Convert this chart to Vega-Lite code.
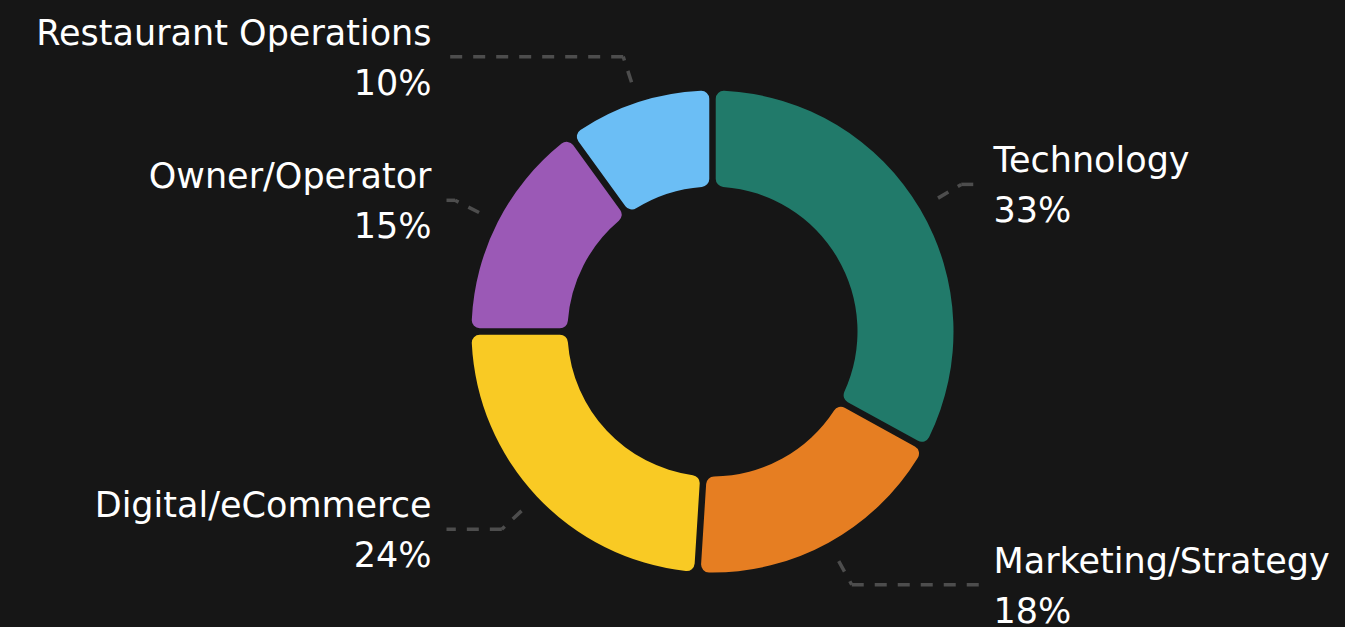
{
  "$schema": "https://vega.github.io/schema/vega-lite/v6.json",
  "width": 1265,
  "height": 591,
  "autosize": {"type": "none"},
  "padding": {"left": 80, "top": 36, "right": 0, "bottom": 0},
  "background": "#161616",
  "view": {"stroke": null},
  "config": {"font": "DejaVu Sans"},
  "data": {
    "values": [
      {"category": "Technology", "share": 0.33, "rank": 1},
      {"category": "Marketing/Strategy", "share": 0.18, "rank": 2},
      {"category": "Digital/eCommerce", "share": 0.24, "rank": 3},
      {"category": "Owner/Operator", "share": 0.15, "rank": 4},
      {"category": "Restaurant Operations", "share": 0.10, "rank": 5}
    ]
  },
  "layer": [
    {
      "mark": {"type": "arc", "outerRadius": 241, "innerRadius": 145, "padAngle": 0.023, "cornerRadius": 8},
      "encoding": {
        "theta": {"field": "share", "type": "quantitative", "stack": true},
        "order": {"field": "rank", "type": "quantitative"},
        "color": {
          "field": "category",
          "type": "nominal",
          "legend": null,
          "scale": {
            "domain": ["Technology", "Marketing/Strategy", "Digital/eCommerce", "Owner/Operator", "Restaurant Operations"],
            "range": ["#217a6a", "#e67e22", "#f9ca24", "#9b59b6", "#6bbef5"]
          }
        }
      }
    },
    {
      "transform": [
        {"window": [{"op": "sum", "field": "share", "as": "cum"}], "sort": [{"field": "rank"}], "frame": [null, 0]},
        {"calculate": "(datum.cum - datum.share / 2) * 2 * PI", "as": "mid"},
        {"calculate": "262 * sin(datum.mid)", "as": "ax"},
        {"calculate": "262 * cos(datum.mid)", "as": "ay"},
        {"calculate": "289 * sin(datum.mid)", "as": "bx"},
        {"calculate": "289 * cos(datum.mid)", "as": "by"},
        {"calculate": "datum.mid < PI ? 269 : -266", "as": "cx"},
        {"calculate": "datum.mid < PI ? 281 : -281", "as": "lx"},
        {"calculate": "datum.category + '\\n' + format(datum.share, '.0%')", "as": "label"}
      ],
      "layer": [
        {
          "mark": {"type": "rule", "stroke": "#4d4d4d", "strokeWidth": 3.5, "strokeDash": [12, 11]},
          "encoding": {
            "x": {"field": "ax", "type": "quantitative", "scale": {"domain": [-632.5, 632.5], "nice": false, "zero": false}, "axis": null},
            "y": {"field": "ay", "type": "quantitative", "scale": {"domain": [-295.5, 295.5], "nice": false, "zero": false}, "axis": null},
            "x2": {"field": "bx"},
            "y2": {"field": "by"}
          }
        },
        {
          "mark": {"type": "rule", "stroke": "#4d4d4d", "strokeWidth": 3.5, "strokeDash": [12, 11]},
          "encoding": {
            "x": {"field": "bx", "type": "quantitative", "scale": {"domain": [-632.5, 632.5], "nice": false, "zero": false}, "axis": null},
            "y": {"field": "by", "type": "quantitative", "scale": {"domain": [-295.5, 295.5], "nice": false, "zero": false}, "axis": null},
            "x2": {"field": "cx"}
          }
        },
        {
          "transform": [{"filter": "datum.mid < PI"}],
          "mark": {"type": "text", "align": "left", "baseline": "middle", "lineBreak": "\n", "lineHeight": 50, "fontSize": 35, "color": "#ffffff", "dy": -23},
          "encoding": {
            "x": {"field": "lx", "type": "quantitative", "scale": {"domain": [-632.5, 632.5], "nice": false, "zero": false}, "axis": null},
            "y": {"field": "by", "type": "quantitative", "scale": {"domain": [-295.5, 295.5], "nice": false, "zero": false}, "axis": null},
            "text": {"field": "label"}
          }
        },
        {
          "transform": [{"filter": "datum.mid >= PI"}],
          "mark": {"type": "text", "align": "right", "baseline": "middle", "lineBreak": "\n", "lineHeight": 50, "fontSize": 35, "color": "#ffffff", "dy": -23},
          "encoding": {
            "x": {"field": "lx", "type": "quantitative", "scale": {"domain": [-632.5, 632.5], "nice": false, "zero": false}, "axis": null},
            "y": {"field": "by", "type": "quantitative", "scale": {"domain": [-295.5, 295.5], "nice": false, "zero": false}, "axis": null},
            "text": {"field": "label"}
          }
        }
      ]
    }
  ]
}
